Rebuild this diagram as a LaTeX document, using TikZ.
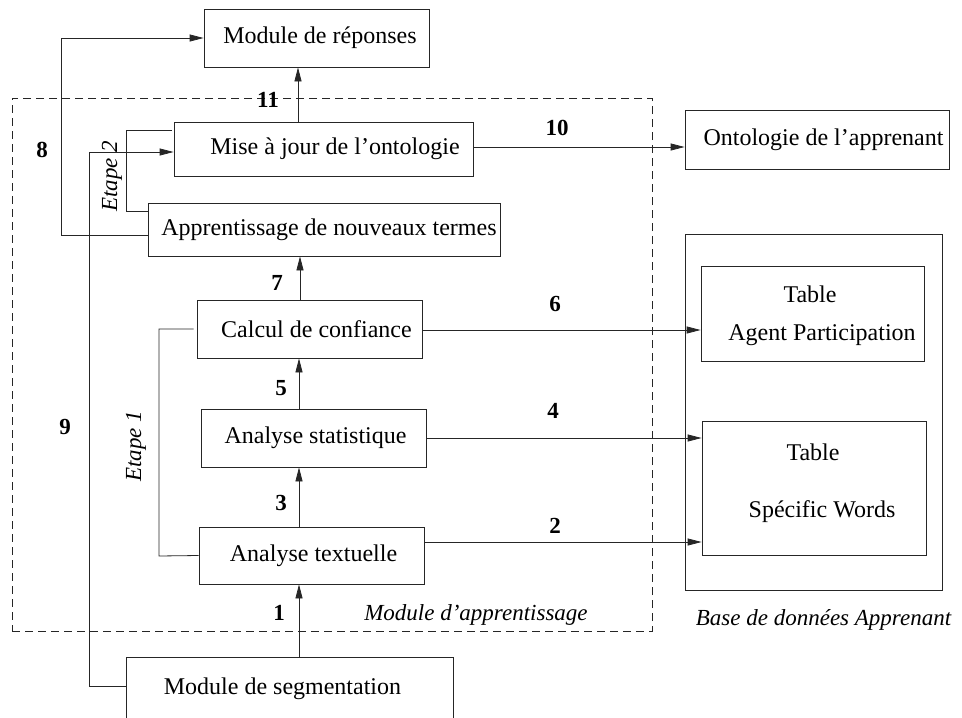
\documentclass[tikz,border=0pt]{standalone}
\usepackage{fontspec}
\setmainfont{Liberation Serif}
\usetikzlibrary{arrows.meta,calc}
\begin{document}
\begin{tikzpicture}[x=1pt,y=-1pt,
  box/.style={draw=black!85, line width=0.8pt, inner sep=0pt, font=\fontsize{24}{28}\selectfont},
  lbl/.style={font=\fontsize{23}{27}\selectfont\bfseries, inner sep=0pt},
  ital/.style={font=\fontsize{23}{27}\selectfont\itshape, inner sep=0pt},
  txt/.style={font=\fontsize{24}{28}\selectfont, inner sep=0pt},
  arr/.style={draw=black!85, line width=0.8pt, -{Triangle[length=14pt,width=7pt]}},
  ln/.style={draw=black!85, line width=0.8pt}]
\useasboundingbox (0,0) rectangle (962,718);
\clip (0,0) rectangle (962,718);
\fill[white] (0,0) rectangle (962,718);

% dashed learning module
\node[box, dashed, dash pattern=on 8pt off 5pt, minimum width=640pt, minimum height=533pt] (learn) at (332,364.5) {};

% boxes
\node[box, minimum width=225pt, minimum height=58pt] (resp) at (316.5,38) {\hspace*{7pt}Module de réponses};
\node[box, minimum width=299pt, minimum height=54pt] (mise) at (323.5,149) {\hspace*{23pt}Mise à jour de l’ontologie};
\node[box, minimum width=352pt, minimum height=53pt] (app) at (324,229.5) {\hspace*{10pt}Apprentissage de nouveaux termes};
\node[box, minimum width=225pt, minimum height=58pt] (calc) at (309.5,329) {\hspace*{14pt}Calcul de confiance};
\node[box, minimum width=225pt, minimum height=58pt] (stat) at (313.5,438) {\hspace*{4pt}Analyse statistique};
\node[box, minimum width=225pt, minimum height=57pt] (textu) at (311.5,555.5) {\hspace*{4pt}Analyse textuelle};
\node[box, minimum width=327pt, minimum height=63pt] (seg) at (289.5,688.5) {Module de segmentation\hspace*{14pt}};
\node[box, minimum width=264pt, minimum height=59pt] (onto) at (817,139.5) {\hspace*{13pt}Ontologie de l’apprenant};

% database
\node[box, minimum width=257pt, minimum height=356pt] (db) at (813.5,412) {};
\node[box, minimum width=223pt, minimum height=95pt] (agent) at (812.5,313.5) {};
\node[box, minimum width=224pt, minimum height=134pt] (sw) at (814,488) {};
\node[txt] (agentA) at (810,294) {Table};
\node[txt] (agentB) at (822,335) {Agent Participation};
\node[txt] (swA) at (813,452) {Table};
\node[txt] (swB) at (822,512) {Spécific Words};

% italic captions
\node[ital] (capL) at (476,615) {Module d’apprentissage};
\node[ital] (capB) at (823.5,620) {Base de données Apprenant};
\node[ital, rotate=90] (e2) at (112,176) {Etape 2};
\node[ital, rotate=90] (e1) at (136,446) {Etape 1};

% brackets
\draw[ln] (172,130) -- (126,130) -- (126,211) -- (app.west |- 0,211);
\draw[ln] ([xshift=-3pt]calc.west) -| (159,556) -- (textu.west);

% vertical arrows
\coordinate (a11) at ([xshift=-25.5pt]mise.north);
\draw[arr] (a11) -- (a11 |- resp.south);
\coordinate (a7) at ([xshift=-9.5pt]calc.north);
\draw[arr] (a7) -- (a7 |- app.south);
\coordinate (a5) at ([xshift=-14.5pt]stat.north);
\draw[arr] (a5) -- (a5 |- calc.south);
\coordinate (a3) at ([xshift=-12.5pt]textu.north);
\draw[arr] (a3) -- (a3 |- stat.south);
\coordinate (a1) at ([xshift=9.5pt]seg.north);
\draw[arr] (a1) -- (a1 |- textu.south);

% horizontal arrows
\coordinate (a10) at ([yshift=2pt]mise.east);
\draw[arr] (a10) -- (a10 -| onto.west);
\coordinate (a6) at ([yshift=-1pt]calc.east);
\draw[arr] (a6) -- (a6 -| agent.west);
\draw[arr] (stat.east) -- (stat.east -| sw.west);
\coordinate (a2) at ([yshift=13.5pt]textu.east);
\draw[arr] (a2) -- (a2 -| sw.west);

% feedback arrows
\coordinate (a8) at ([yshift=-5.5pt]app.west);
\draw[arr] (a8) -| (61,38) -- (resp.west);
\coordinate (a9) at ([yshift=2.5pt]seg.west);
\draw[arr] (a9) -| (89,152) -- (mise.west |- 0,152);

% number labels
\node[lbl] (n11) at (268,100) {11};
\node[lbl] (n8) at (42,150) {8};
\node[lbl] (n9) at (65,427) {9};
\node[lbl] (n7) at (277,283) {7};
\node[lbl] (n5) at (281,388) {5};
\node[lbl] (n3) at (281,503) {3};
\node[lbl] (n1) at (279,613) {1};
\node[lbl] (n10) at (557,128) {10};
\node[lbl] (n6) at (555,304) {6};
\node[lbl] (n4) at (553,411) {4};
\node[lbl] (n2) at (555,526) {2};
\end{tikzpicture}
\end{document}
